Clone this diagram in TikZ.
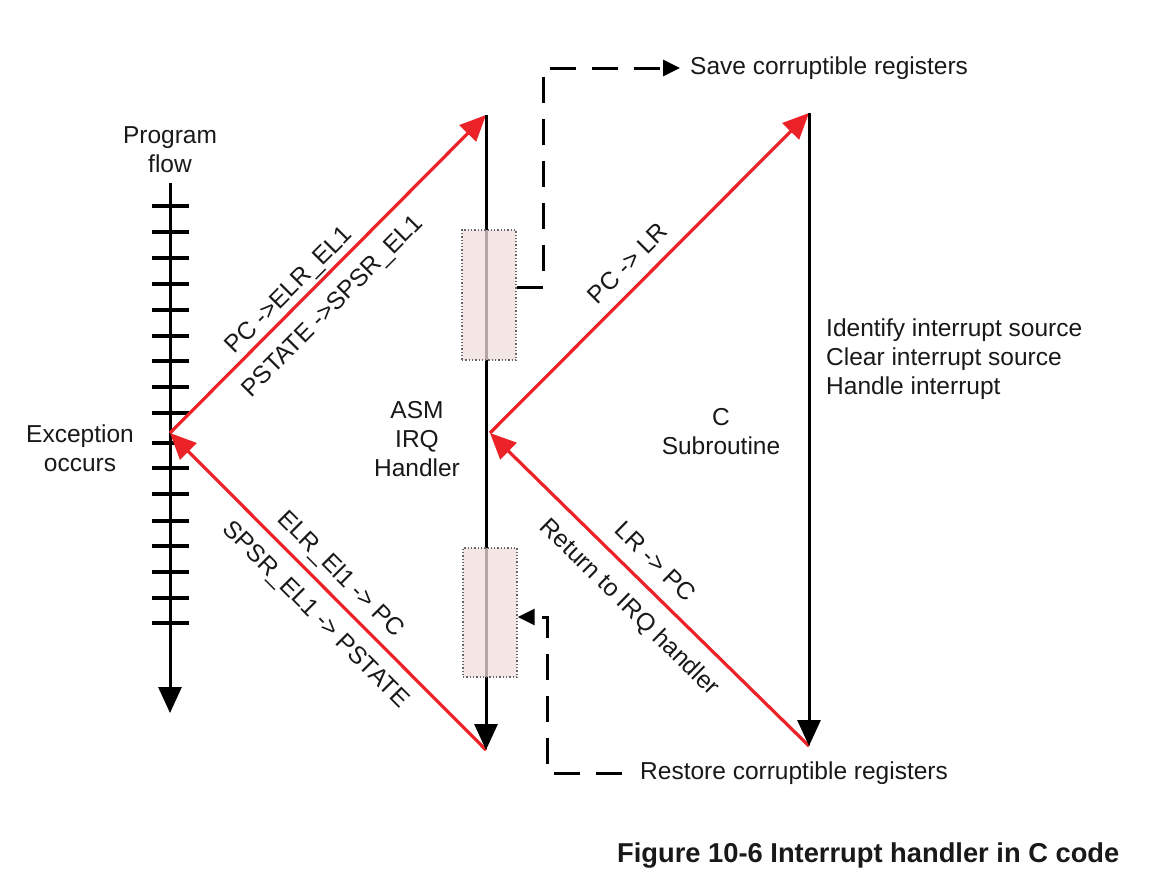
\documentclass[tikz,border=0pt]{standalone}
\usepackage{fontspec}
\setmainfont{Liberation Sans}
\usetikzlibrary{arrows.meta}
\definecolor{armred}{RGB}{235,35,40}
\definecolor{boxpink}{RGB}{240,222,220}
\definecolor{txt}{RGB}{25,25,25}
\begin{document}
\begin{tikzpicture}[x=1pt,y=-1pt,
  lbl/.style={font=\fontsize{24.5}{29}\selectfont, text=txt, inner sep=0pt},
  slabel/.style={lbl, sloped, anchor=base},
  redline/.style={draw=armred, line width=3.2pt, >={Triangle[length=26pt,width=23pt]}},
  flowline/.style={draw=black, line width=3pt, -{Triangle[length=26pt,width=23pt]}},
  tickmark/.style={draw=black, line width=3.3pt},
  regbox/.style={draw=black!60, dotted, line width=1.3pt, fill=boxpink, fill opacity=0.75, minimum width=54pt},
  dashconn/.style={draw=black, line width=3pt, dash pattern=on 26pt off 16pt, -{Triangle[length=17pt,width=16pt]}}
]
\useasboundingbox (0,0) rectangle (1158,891);

% key points
\coordinate (flowtop) at (170,183);
\coordinate (flowbot) at (170,713);
\coordinate (exc) at (170,433);
\coordinate (asmtop) at (486,115);
\coordinate (asmbot) at (486,750);
\coordinate (ret) at (490,433);
\coordinate (ctop) at (809,113);
\coordinate (cbot) at (809,746);

% program flow axis
\draw[flowline] (flowtop) -- (flowbot);
\foreach \y in {206,232,258,284,310,336,361,387,413,443,468,494,521,546,572,598,623}
  \draw[tickmark] (152,\y) -- (189,\y);

% red transitions
\draw[redline, ->] (exc) --
  node[slabel, pos=0.413, yshift=9pt] {PC ->ELR\_EL1}
  node[slabel, pos=0.456, yshift=-33pt] {PSTATE ->SPSR\_EL1} (asmtop);
\draw[redline, <-] (exc) --
  node[slabel, pos=0.493, yshift=14pt] {ELR\_El1 -> PC}
  node[slabel, pos=0.517, yshift=-32pt] {SPSR\_EL1 -> PSTATE} (asmbot);
\draw[redline, ->] (ret) --
  node[slabel, pos=0.481, yshift=14pt] {PC -> LR} (ctop);
\draw[redline, <-] (ret) --
  node[slabel, pos=0.466, yshift=16pt] {LR -> PC}
  node[slabel, pos=0.496, yshift=-34pt] {Return to IRQ handler} (cbot);

% vertical handler lines
\draw[flowline] (asmtop) -- (asmbot);
\draw[flowline] (ctop) -- (cbot);

% register boxes
\node[regbox, minimum height=130pt] (save) at (489,295) {};
\node[regbox, minimum height=129pt] (restore) at (490,612.5) {};

% texts
\node[lbl, align=center] (pf) at (170,150) {Program\\flow};
\node[lbl, align=center] (excl) at (80,448) {Exception\\occurs};
\node[lbl, align=center] (asml) at (417,439) {ASM\\IRQ\\Handler};
\node[lbl, align=center] (cl) at (721,432) {C\\Subroutine};
\node[lbl, align=left, anchor=west] (ident) at (826,359) {Identify interrupt source\\Clear interrupt source\\Handle interrupt};
\node[lbl, anchor=west] (savetxt) at (690,68) {Save corruptible registers};
\node[lbl, anchor=west] (resttxt) at (640,773) {Restore corruptible registers};
\node[font=\bfseries\fontsize{27.3}{32}\selectfont, text=txt, inner sep=0pt, anchor=west] (title) at (617,855) {Figure 10-6 Interrupt handler in C code};

% dashed connectors
\coordinate (savebend) at (543,0);
\coordinate (restbend) at (547,617);
\draw[dashconn] ([yshift=8pt]save.east) -- ([yshift=8pt]save.east -| savebend) |- ([xshift=-10pt]savetxt.west);
\draw[dashconn] ([xshift=-18pt]resttxt.west) -| (restbend) -- (restbend -| restore.east);
\end{tikzpicture}
\end{document}
